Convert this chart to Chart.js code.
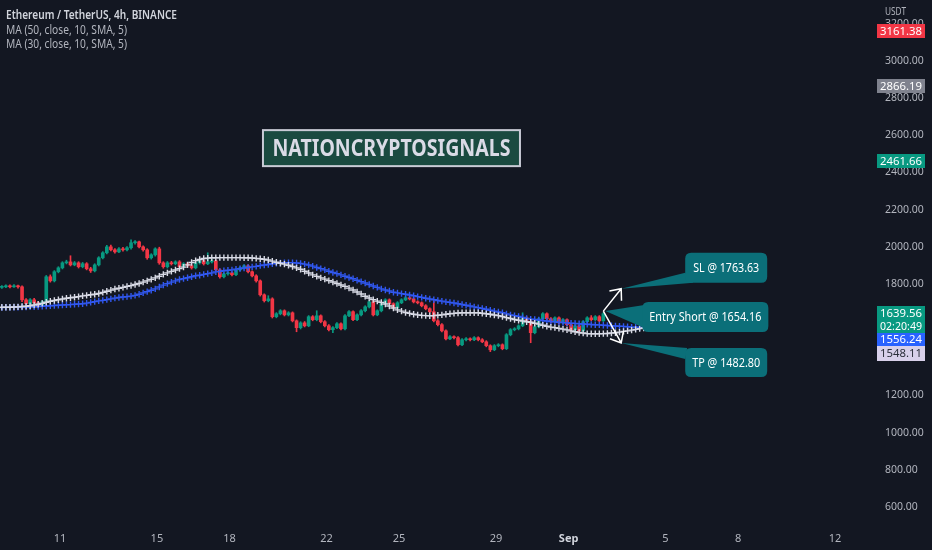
<!DOCTYPE html>
<html>
<head>
<meta charset="utf-8">
<title>ETHUSDT 4h</title>
<script src="https://cdn.jsdelivr.net/npm/chart.js@4.4.0/dist/chart.umd.min.js"></script>
<style>
    html, body { margin: 0; padding: 0; background: #131722; }
    #wrap { width: 932px; height: 550px; }
</style>
</head>
<body>
<div id="wrap"><canvas id="ethChart" width="932" height="550"></canvas></div>
<script>
// 4h candles, x in days of August (Sep 1 = 32)
const firstBarDay = 8.6;
const barsPerDay = 6;

const opens = [
    1782, 1785, 1790, 1785, 1790, 1785, 1715, 1694, 1715, 1699,
    1683, 1704, 1839, 1817, 1866, 1887, 1914, 1919, 1903, 1914,
    1893, 1909, 1882, 1871, 1903, 1941, 1968, 2000, 1984, 1973,
    1989, 1984, 1995, 2022, 2027, 2000, 1984, 1941, 1957, 1989,
    1914, 1893, 1914, 1909, 1919, 1893, 1909, 1898, 1887, 1914,
    1925, 1909, 1919, 1925, 1876, 1839, 1855, 1860, 1850, 1876,
    1887, 1898, 1866, 1844, 1817, 1742, 1710, 1720, 1624, 1640,
    1656, 1634, 1645, 1602, 1565, 1591, 1575, 1624, 1608, 1629,
    1597, 1575, 1554, 1565, 1586, 1559, 1629, 1651, 1608, 1634,
    1656, 1677, 1704, 1634, 1656, 1694, 1715, 1694, 1672, 1699,
    1715, 1726, 1720, 1704, 1699, 1683, 1667, 1651, 1602, 1581,
    1548, 1505, 1516, 1511, 1473, 1500, 1505, 1500, 1511, 1500,
    1489, 1468, 1446, 1468, 1473, 1452, 1527, 1554, 1559, 1575,
    1618, 1597, 1538, 1570, 1613, 1640, 1613, 1597, 1618, 1591,
    1608, 1581, 1554, 1575, 1548, 1597, 1618, 1608, 1624, 1602
];
const highs = [
    1792, 1796, 1795, 1797, 1794, 1790, 1722, 1721, 1723, 1705,
    1712, 1846, 1849, 1872, 1893, 1920, 1928, 1952, 1921, 1920,
    1916, 1915, 1890, 1909, 1947, 1974, 2008, 2010, 1991, 1996,
    1997, 2001, 2038, 2034, 2031, 2005, 1990, 1963, 1995, 1998,
    1920, 1921, 1922, 1925, 1926, 1915, 1916, 1904, 1920, 1933,
    1930, 1968, 1932, 1929, 1882, 1860, 1866, 1865, 1882, 1893,
    1904, 1903, 1871, 1850, 1822, 1747, 1737, 1726, 1646, 1662,
    1661, 1651, 1650, 1607, 1597, 1598, 1630, 1630, 1656, 1634,
    1603, 1581, 1571, 1592, 1591, 1635, 1657, 1656, 1640, 1662,
    1683, 1710, 1712, 1661, 1700, 1721, 1720, 1699, 1705, 1721,
    1732, 1731, 1726, 1710, 1704, 1689, 1672, 1710, 1608, 1587,
    1553, 1522, 1521, 1517, 1506, 1511, 1510, 1517, 1516, 1506,
    1495, 1473, 1474, 1479, 1478, 1533, 1560, 1565, 1581, 1645,
    1624, 1603, 1576, 1619, 1646, 1645, 1619, 1624, 1623, 1614,
    1613, 1587, 1581, 1580, 1603, 1624, 1630, 1630, 1630, 1646
];
const lows = [
    1776, 1780, 1779, 1781, 1778, 1705, 1683, 1688, 1693, 1672,
    1678, 1698, 1810, 1811, 1860, 1881, 1908, 1897, 1898, 1886,
    1887, 1876, 1862, 1865, 1897, 1935, 1962, 1978, 1966, 1968,
    1977, 1978, 1988, 2015, 1994, 1977, 1933, 1934, 1950, 1906,
    1885, 1886, 1902, 1903, 1886, 1888, 1892, 1880, 1881, 1907,
    1902, 1904, 1913, 1870, 1832, 1833, 1848, 1844, 1845, 1870,
    1881, 1860, 1838, 1810, 1735, 1703, 1704, 1617, 1618, 1634,
    1628, 1628, 1596, 1543, 1558, 1569, 1570, 1602, 1602, 1591,
    1569, 1548, 1538, 1560, 1553, 1553, 1624, 1602, 1603, 1628,
    1650, 1671, 1628, 1629, 1650, 1688, 1688, 1666, 1667, 1694,
    1710, 1714, 1698, 1693, 1677, 1661, 1645, 1596, 1575, 1542,
    1499, 1500, 1505, 1467, 1468, 1494, 1494, 1495, 1494, 1484,
    1462, 1436, 1441, 1462, 1446, 1447, 1521, 1548, 1553, 1570,
    1591, 1484, 1532, 1564, 1607, 1607, 1591, 1592, 1585, 1586,
    1575, 1548, 1549, 1542, 1543, 1592, 1602, 1603, 1597, 1598
];
const closes = [
    1785, 1790, 1785, 1790, 1785, 1715, 1694, 1715, 1699, 1683,
    1704, 1839, 1817, 1866, 1887, 1914, 1919, 1903, 1914, 1893,
    1909, 1882, 1871, 1903, 1941, 1968, 2000, 1984, 1973, 1989,
    1984, 1995, 2022, 2027, 2000, 1984, 1941, 1957, 1989, 1914,
    1893, 1914, 1909, 1919, 1893, 1909, 1898, 1887, 1914, 1925,
    1909, 1919, 1925, 1876, 1839, 1855, 1860, 1850, 1876, 1887,
    1898, 1866, 1844, 1817, 1742, 1710, 1720, 1624, 1640, 1656,
    1634, 1645, 1602, 1565, 1591, 1575, 1624, 1608, 1629, 1597,
    1575, 1554, 1565, 1586, 1559, 1629, 1651, 1608, 1634, 1656,
    1677, 1704, 1634, 1656, 1694, 1715, 1694, 1672, 1699, 1715,
    1726, 1720, 1704, 1699, 1683, 1667, 1651, 1602, 1581, 1548,
    1505, 1516, 1511, 1473, 1500, 1505, 1500, 1511, 1500, 1489,
    1468, 1446, 1468, 1473, 1452, 1527, 1554, 1559, 1575, 1618,
    1597, 1538, 1570, 1613, 1640, 1613, 1597, 1618, 1591, 1608,
    1581, 1554, 1575, 1548, 1597, 1618, 1608, 1624, 1602, 1640
];

// moving averages, shifted 10 bars forward (so 160 points)
const ma50 = [
    1673, 1674, 1674, 1675, 1675, 1676, 1676, 1677, 1677, 1679,
    1680, 1682, 1683, 1684, 1686, 1687, 1688, 1689, 1691, 1692,
    1694, 1697, 1701, 1705, 1709, 1712, 1716, 1720, 1724, 1727,
    1730, 1732, 1735, 1739, 1745, 1752, 1759, 1766, 1774, 1784,
    1794, 1802, 1810, 1817, 1824, 1829, 1834, 1839, 1844, 1847,
    1852, 1856, 1860, 1865, 1868, 1871, 1874, 1876, 1880, 1883,
    1886, 1889, 1892, 1895, 1899, 1902, 1905, 1909, 1911, 1913,
    1915, 1915, 1915, 1913, 1911, 1907, 1902, 1896, 1889, 1883,
    1876, 1869, 1862, 1856, 1849, 1842, 1835, 1828, 1820, 1813,
    1805, 1797, 1789, 1782, 1774, 1768, 1762, 1756, 1752, 1748,
    1745, 1741, 1737, 1732, 1728, 1723, 1719, 1715, 1711, 1708,
    1704, 1701, 1698, 1694, 1690, 1686, 1682, 1677, 1673, 1669,
    1664, 1659, 1654, 1649, 1645, 1639, 1634, 1630, 1625, 1620,
    1615, 1611, 1609, 1606, 1603, 1601, 1598, 1596, 1594, 1592,
    1591, 1589, 1588, 1586, 1585, 1583, 1582, 1581, 1580, 1578,
    1577, 1575, 1574, 1573, 1572, 1570, 1568, 1567, 1566, 1565
];
const ma30 = [
    1675, 1675, 1675, 1676, 1677, 1679, 1680, 1683, 1687, 1691,
    1696, 1702, 1707, 1711, 1715, 1719, 1723, 1726, 1729, 1732,
    1736, 1739, 1742, 1745, 1749, 1755, 1761, 1767, 1773, 1777,
    1782, 1787, 1791, 1797, 1803, 1810, 1817, 1825, 1833, 1842,
    1852, 1860, 1868, 1875, 1883, 1891, 1903, 1916, 1926, 1932,
    1937, 1939, 1941, 1941, 1942, 1942, 1942, 1942, 1942, 1942,
    1941, 1941, 1940, 1938, 1936, 1933, 1929, 1923, 1917, 1912,
    1907, 1901, 1894, 1887, 1879, 1869, 1859, 1849, 1841, 1833,
    1826, 1818, 1811, 1803, 1795, 1787, 1778, 1768, 1757, 1746,
    1734, 1725, 1716, 1708, 1701, 1692, 1682, 1671, 1661, 1654,
    1647, 1642, 1637, 1634, 1631, 1630, 1629, 1630, 1632, 1634,
    1637, 1640, 1642, 1644, 1645, 1645, 1645, 1645, 1645, 1643,
    1640, 1637, 1633, 1630, 1625, 1619, 1614, 1609, 1605, 1601,
    1597, 1594, 1589, 1584, 1578, 1573, 1568, 1565, 1561, 1557,
    1553, 1548, 1543, 1539, 1536, 1533, 1532, 1532, 1532, 1533,
    1534, 1536, 1538, 1541, 1545, 1548, 1552, 1556, 1560, 1563
];

const dayTicks = [11, 15, 18, 22, 25, 29, 32, 36, 39, 43];
const dayTickLabels = ['11', '15', '18', '22', '25', '29', 'Sep', '5', '8', '12'];
const priceTicks = [600, 800, 1000, 1200, 1400, 1600, 1800, 2000, 2200, 2400, 2600, 2800, 3000, 3200];

const markerPrices = [3161.38, 2866.19, 2461.66];
const lastPrice = 1639.56;
const barCountdown = '02:20:49';
const ma50Last = 1556.24;
const ma30Last = 1548.11;

const entryPrice = 1654.16;
const stopPrice = 1763.63;
const targetPrice = 1482.80;

const UP = '#089981';
const DOWN = '#f23645';
const FONT = "'Noto Sans', sans-serif";

function barDay(i) {
    return firstBarDay + i / barsPerDay;
}

function candleColor(i) {
    return closes[i] >= opens[i] ? UP : DOWN;
}

function roundRect(ctx, x, y, w, h, r) {
    ctx.beginPath();
    ctx.moveTo(x + r, y);
    ctx.lineTo(x + w - r, y);
    ctx.quadraticCurveTo(x + w, y, x + w, y + r);
    ctx.lineTo(x + w, y + h - r);
    ctx.quadraticCurveTo(x + w, y + h, x + w - r, y + h);
    ctx.lineTo(x + r, y + h);
    ctx.quadraticCurveTo(x, y + h, x, y + h - r);
    ctx.lineTo(x, y + r);
    ctx.quadraticCurveTo(x, y, x + r, y);
    ctx.closePath();
}

function arrow(ctx, x1, y1, x2, y2) {
    const a = Math.atan2(y1 - y2, x1 - x2);
    const len = 12, spread = 0.7;
    ctx.beginPath();
    ctx.moveTo(x1, y1);
    ctx.lineTo(x2, y2);
    ctx.moveTo(x2 + len * Math.cos(a - spread), y2 + len * Math.sin(a - spread));
    ctx.lineTo(x2, y2);
    ctx.lineTo(x2 + len * Math.cos(a + spread), y2 + len * Math.sin(a + spread));
    ctx.stroke();
}

function callout(ctx, text, textWidth, px, py, bx, by, bw, bh, tail) {
    ctx.fillStyle = '#0b6f79';
    ctx.beginPath();
    ctx.moveTo(px, py);
    ctx.lineTo(tail[0][0], tail[0][1]);
    ctx.lineTo(tail[1][0], tail[1][1]);
    ctx.closePath();
    ctx.fill();
    roundRect(ctx, bx, by, bw, bh, 6);
    ctx.fill();
    ctx.fillStyle = '#ffffff';
    ctx.font = '12.5px ' + FONT;
    ctx.textAlign = 'center';
    ctx.textBaseline = 'middle';
    ctx.fillText(text, bx + bw / 2, by + bh / 2 + 0.5, textWidth);
}

function priceTag(ctx, left, top, h, bg, fg, lines) {
    ctx.fillStyle = bg;
    ctx.fillRect(left, top, 48, h);
    ctx.fillStyle = fg;
    ctx.font = '11.5px ' + FONT;
    ctx.textAlign = 'center';
    ctx.textBaseline = 'middle';
    const step = h / lines.length;
    lines.forEach((t, i) => ctx.fillText(t, left + 24, top + step * i + step / 2 + 0.5, 42));
}

const overlayPlugin = {
    id: 'overlay',
    beforeDraw(chart) {
        const ctx = chart.ctx;
        ctx.save();
        ctx.fillStyle = '#131722';
        ctx.fillRect(0, 0, chart.width, chart.height);
        ctx.restore();
    },
    afterDraw(chart) {
        const ctx = chart.ctx;
        const xs = chart.scales.x;
        const ys = chart.scales.y;
        ctx.save();

        // legend
        ctx.textAlign = 'left';
        ctx.textBaseline = 'middle';
        ctx.fillStyle = '#d1d4dc';
        ctx.font = '600 12.5px ' + FONT;
        ctx.fillText('Ethereum / TetherUS, 4h, BINANCE', 6, 15, 171);
        ctx.fillStyle = '#b2b5be';
        ctx.font = '12.5px ' + FONT;
        ctx.fillText('MA (50, close, 10, SMA, 5)', 6, 30, 121);
        ctx.fillText('MA (30, close, 10, SMA, 5)', 6, 44, 121);

        ctx.font = '11px ' + FONT;
        ctx.fillText('USDT', 885, 12, 21);

        // watermark box, anchored at time / price
        const tx = xs.getPixelForValue(19.38);
        const ty = ys.getPixelForValue(2628);
        ctx.fillStyle = '#1a4a40';
        ctx.fillRect(tx, ty, 257, 36);
        ctx.strokeStyle = '#c9cbd6';
        ctx.lineWidth = 2;
        ctx.strokeRect(tx, ty, 257, 36);
        ctx.font = 'bold 24px ' + FONT;
        ctx.fillStyle = '#dadbe6';
        ctx.textAlign = 'center';
        ctx.fillText('NATIONCRYPTOSIGNALS', tx + 128.5, ty + 19, 238);

        // trade plan: entry on last bar, SL / TP arrows
        const ex = xs.getPixelForValue(barDay(closes.length - 1));
        const ey = ys.getPixelForValue(entryPrice);
        const ax = xs.getPixelForValue(34.17);
        const sy = ys.getPixelForValue(stopPrice) - 2;
        const py = ys.getPixelForValue(targetPrice);

        callout(ctx, 'SL @ ' + stopPrice.toFixed(2), 66, ax, sy, ax + 64, sy - 36, 82, 30,
            [[ax + 64, sy - 16], [ax + 72, sy - 6]]);
        callout(ctx, 'Entry Short @ ' + entryPrice.toFixed(2), 112, ex + 2, ey, ex + 39, ey - 9, 126, 30,
            [[ex + 41, ey - 6], [ex + 41, ey + 17]]);
        callout(ctx, 'TP @ ' + targetPrice.toFixed(2), 68, ax, py, ax + 64, py + 5, 82, 29,
            [[ax + 66, py + 5], [ax + 64, py + 16]]);

        ctx.strokeStyle = '#ffffff';
        ctx.lineWidth = 1.5;
        arrow(ctx, ex, ey, ax, sy);
        arrow(ctx, ex, ey, ax, py);

        // price scale tags
        const left = ys.left + 9;
        const tagColors = [[DOWN, '#ffffff'], ['#7f828e', '#ffffff'], [UP, '#ffffff']];
        markerPrices.forEach((p, i) => {
            const y = ys.getPixelForValue(p);
            priceTag(ctx, left, Math.round(y - 7), 14, tagColors[i][0], tagColors[i][1], [p.toFixed(2)]);
        });
        let top = Math.round(ys.getPixelForValue(lastPrice) - 8);
        priceTag(ctx, left, top, 27, UP, '#ffffff', [lastPrice.toFixed(2), barCountdown]);
        top = Math.max(top + 27, Math.round(ys.getPixelForValue(ma50Last) - 7));
        priceTag(ctx, left, top, 13, '#2962ff', '#ffffff', [ma50Last.toFixed(2)]);
        top = Math.max(top + 13, Math.round(ys.getPixelForValue(ma30Last) - 7));
        priceTag(ctx, left, top, 15, '#d8d0ea', '#2a2e39', [ma30Last.toFixed(2)]);

        ctx.restore();
    }
};

const wickData = highs.map((h, i) => ({ x: barDay(i), y: [lows[i], h] }));
const bodyData = opens.map((o, i) => ({ x: barDay(i), y: [o, closes[i]] }));
const ma50Data = ma50.map((v, i) => ({ x: barDay(i), y: v }));
const ma30Data = ma30.map((v, i) => ({ x: barDay(i), y: v }));

Chart.defaults.font.family = FONT;

function noPadding(scale) {
    scale.paddingLeft = 0;
    scale.paddingRight = 0;
    scale.paddingTop = 0;
    scale.paddingBottom = 0;
}

const ethChart = new Chart(document.getElementById('ethChart'), {
    type: 'bar',
    data: {
        datasets: [
            {
                type: 'line',
                label: 'MA (30, close, 10, SMA, 5)',
                data: ma30Data,
                showLine: false,
                pointStyle: 'cross',
                pointRadius: 3.2,
                pointBorderWidth: 1.4,
                pointBorderColor: '#d9dbe6',
                order: 0
            },
            {
                type: 'line',
                label: 'MA (50, close, 10, SMA, 5)',
                data: ma50Data,
                showLine: false,
                pointStyle: 'cross',
                pointRadius: 3.2,
                pointBorderWidth: 1.4,
                pointBorderColor: '#3158f0',
                order: 1
            },
            {
                label: 'body',
                data: bodyData,
                backgroundColor: ctx => candleColor(ctx.dataIndex),
                barThickness: 3,
                minBarLength: 1,
                grouped: false,
                order: 2
            },
            {
                label: 'wick',
                data: wickData,
                backgroundColor: ctx => candleColor(ctx.dataIndex),
                barThickness: 1,
                grouped: false,
                order: 3
            }
        ]
    },
    options: {
        responsive: false,
        animation: false,
        layout: { padding: 0, autoPadding: false },
        plugins: {
            legend: { display: false },
            tooltip: { enabled: false }
        },
        scales: {
            x: {
                type: 'linear',
                min: 8.523,
                max: 44.36,
                offset: false,
                grid: { display: false, drawTicks: false },
                border: { display: false },
                afterBuildTicks: scale => {
                    scale.ticks = dayTicks.map(v => ({ value: v }));
                },
                afterFit: scale => { scale.height = 25; noPadding(scale); },
                ticks: {
                    autoSkip: false,
                    maxRotation: 0,
                    padding: 7,
                    color: ctx => (ctx.tick && ctx.tick.value === 32) ? '#d1d4dc' : '#b2b5be',
                    font: ctx => ({ family: FONT, size: 11, weight: (ctx.tick && ctx.tick.value === 32) ? 'bold' : 'normal' }),
                    callback: (value, index) => dayTickLabels[index]
                }
            },
            y: {
                position: 'right',
                min: 503.1,
                max: 3328.3,
                grid: { display: false, drawTicks: false },
                border: { display: false },
                afterBuildTicks: scale => {
                    scale.ticks = priceTicks.map(v => ({ value: v }));
                },
                afterFit: scale => { scale.width = 64; noPadding(scale); },
                ticks: {
                    padding: 17,
                    color: '#b2b5be',
                    font: { size: 10.5 },
                    callback: value => Number(value).toFixed(2)
                }
            }
        }
    },
    plugins: [overlayPlugin]
});
</script>
</body>
</html>
